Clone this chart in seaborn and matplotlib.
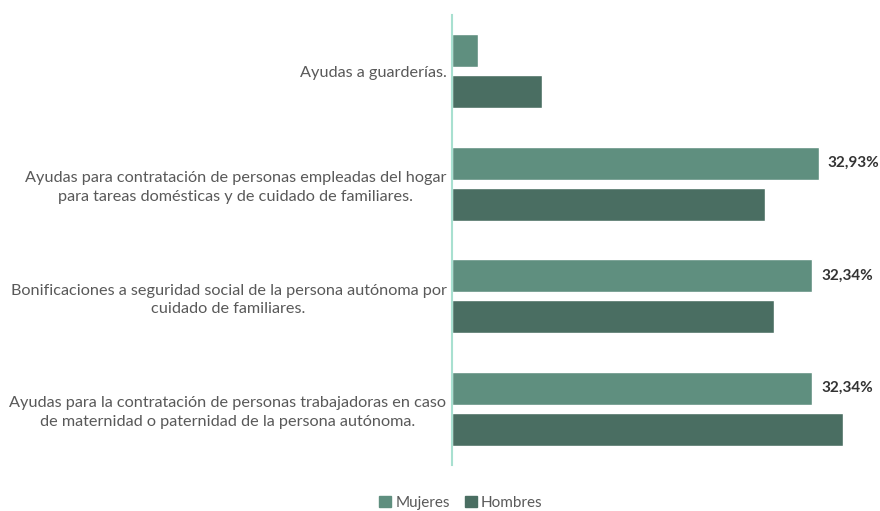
import pandas as pd
import numpy as np
import matplotlib.pyplot as plt
import seaborn as sns

# Data
categories = [
    'Ayudas a guarderías.',
    'Ayudas para contratación de personas empleadas del hogar\npara tareas domésticas y de cuidado de familiares.',
    'Bonificaciones a seguridad social de la persona autónoma por\ncuidado de familiares.',
    'Ayudas para la contratación de personas trabajadoras en caso\nde maternidad o paternidad de la persona autónoma.',
]
mujeres = [2.34, 32.93, 32.34, 32.34]
hombres = [8.10, 28.10, 28.90, 35.10]
mujeres_labels = [None, '32,93%', '32,34%', '32,34%']

df = pd.DataFrame({
    'categoria': categories * 2,
    'valor': mujeres + hombres,
    'sexo': ['Mujeres'] * 4 + ['Hombres'] * 4,
})

sns.set_style('white')
plt.rcParams['font.family'] = ['Lato', 'DejaVu Sans']

fig = plt.figure(figsize=(8.8, 5.11), dpi=100)
ax = fig.add_axes([0.5136, 0.09, 0.481, 0.8806])

palette = {'Mujeres': '#5f8f7f', 'Hombres': '#4a6e62'}
sns.barplot(data=df, y='categoria', x='valor', hue='sexo', order=categories,
            hue_order=['Mujeres', 'Hombres'], palette=palette, orient='h',
            width=0.73, gap=0.19, saturation=1, ax=ax, legend=False)

ax.set_xlim(0, 38)
ax.set_ylim(3.5, -0.5)
ax.set_xlabel('')
ax.set_ylabel('')
ax.set_xticks([])
ax.tick_params(axis='y', length=0, pad=4)
for lbl in ax.get_yticklabels():
    lbl.set_multialignment('center')
    lbl.set_color('#595959')
    lbl.set_fontsize(11.7)
    lbl.set_linespacing(1.4)

for s in ['top', 'right', 'bottom']:
    ax.spines[s].set_visible(False)
ax.spines['left'].set_color('#a8e0d0')
ax.spines['left'].set_linewidth(1.5)

# value labels on the Mujeres bars
offset = -0.73 / 4
for i, (v, t) in enumerate(zip(mujeres, mujeres_labels)):
    if t:
        ax.text(v + 0.8, i + offset, t, va='center', ha='left',
                fontsize=11, fontweight='bold', color='#333333')

handles = [plt.Rectangle((0, 0), 1, 1, color=palette[k]) for k in ['Mujeres', 'Hombres']]
fig.legend(handles, ['Mujeres', 'Hombres'], loc='center', ncol=2,
           bbox_to_anchor=(461 / 880, 8 / 511), frameon=False,
           handlelength=0.75, handleheight=0.75, handletextpad=0.3,
           columnspacing=1.0, prop={'size': 11}, labelcolor='#595959')

fig.savefig('out.png', dpi=100)
